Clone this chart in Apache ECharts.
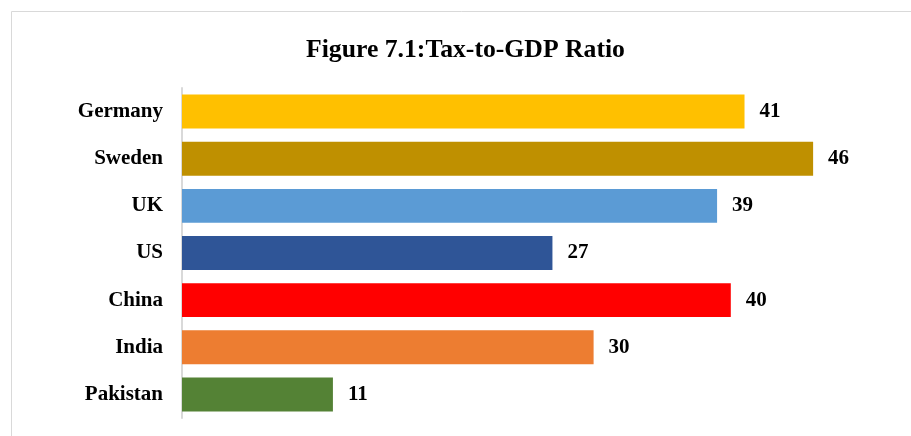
<!DOCTYPE html>
<html>
<head>
<meta charset="utf-8">
<script src="https://cdn.jsdelivr.net/npm/echarts@6/dist/echarts.min.js"></script>
<style>
  html, body { margin: 0; padding: 0; background: #fff; }
  #chart { width: 911px; height: 436px; }
</style>
</head>
<body>
<div id="chart"></div>
<script>
// data
const countries = ['Germany', 'Sweden', 'UK', 'US', 'China', 'India', 'Pakistan'];
const ratios = [41, 46, 39, 27, 40, 30, 11];
const barColors = ['#FFC000', '#BF9000', '#5B9BD5', '#2F5597', '#FF0000', '#ED7D31', '#548235'];

const chart = echarts.init(document.getElementById('chart'));
const font = '"Liberation Serif", "Times New Roman", serif';

const option = {
  animation: false,
  graphic: [{
    type: 'rect',
    shape: { x: 11.5, y: 11.5, width: 940, height: 460 },
    style: { fill: 'none', stroke: '#d9d9d9', lineWidth: 1 }
  }],
  title: {
    text: 'Figure 7.1:Tax-to-GDP Ratio',
    left: 301,
    top: 32,
    textStyle: { fontFamily: font, fontWeight: 'bold', fontSize: 25.7, color: '#000' }
  },
  grid: { left: 182, right: 43, top: 88, bottom: 18, containLabel: false },
  xAxis: {
    type: 'value',
    min: 0,
    max: 50,
    show: false
  },
  yAxis: {
    type: 'category',
    inverse: true,
    data: countries,
    axisLine: { show: true, lineStyle: { color: '#d9d9d9', width: 2 } },
    axisTick: { show: false },
    axisLabel: { margin: 19, fontFamily: font, fontWeight: 'bold', fontSize: 21, color: '#000' }
  },
  series: [{
    type: 'bar',
    data: ratios.map((v, i) => ({ value: v, itemStyle: { color: barColors[i] } })),
    barCategoryGap: '28%',
    label: {
      show: true,
      position: 'right',
      distance: 15,
      fontFamily: font,
      fontWeight: 'bold',
      fontSize: 21,
      color: '#000'
    }
  }]
};
chart.setOption(option);
</script>
</body>
</html>
